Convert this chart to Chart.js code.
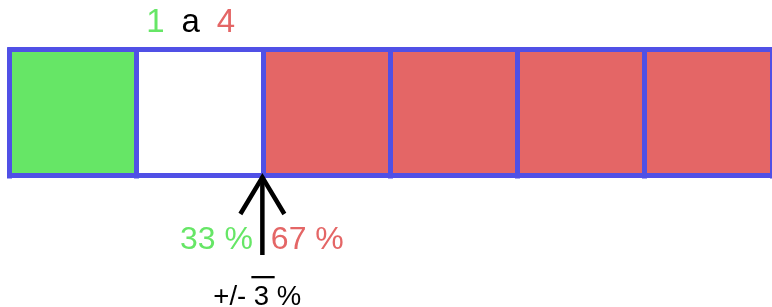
<!DOCTYPE html>
<html><head><meta charset="utf-8">
<script src="https://cdn.jsdelivr.net/npm/chart.js@4/dist/chart.umd.min.js"></script>
<style>html,body{margin:0;padding:0;background:#fff;overflow:hidden}#wrap{width:772px;height:307px;position:relative}canvas{display:block}</style>
</head><body><div id="wrap"><canvas id="c" width="772" height="307"></canvas></div>
<script>
// ---- data ----
const cells = ['1', '2', '3', '4', '5', '6'];
const cellValues = [1, 1, 1, 1, 1, 1];
const cellKinds = ['green', 'white', 'red', 'red', 'red', 'red'];
const titleParts = ['1', 'a', '4'];
const splitPosition = 2;          // boundary the arrow points at
const shareLabels = ['33 %', '67 %'];
const toleranceLabel = ['+/- ', '3', ' %'];

// ---- styles ----
const GREEN = '#66e666', RED = '#e46666', WHITE = '#ffffff', BLUE = '#5050e6', BLACK = '#000000';
const kindColor = { green: GREEN, white: WHITE, red: RED };
const FONT = '"Liberation Sans", Arial, Helvetica, sans-serif';

const overlay = {
  id: 'overlay',
  beforeDraw(chart) { chart.ctx.lineCap = 'square'; },
  afterDraw(chart) {
    const ctx = chart.ctx, xs = chart.scales.x, area = chart.chartArea;
    const x2 = xs.getPixelForValue(splitPosition);
    ctx.save();
    ctx.lineCap = 'butt';
    // title
    ctx.font = '33px ' + FONT;
    ctx.textAlign = 'center';
    ctx.textBaseline = 'alphabetic';
    const tCols = [GREEN, BLACK, RED];
    const tOff = [-108.5, -73.3, -38];
    titleParts.forEach((t, i) => { ctx.fillStyle = tCols[i]; ctx.fillText(t, x2 + tOff[i], 31.5); });
    // arrow
    ctx.strokeStyle = BLACK;
    ctx.lineWidth = 4.5;
    ctx.lineJoin = 'miter';
    ctx.beginPath();
    ctx.moveTo(x2 - 1.5, area.bottom + 1);
    ctx.lineTo(x2 - 1.5, 255);
    ctx.stroke();
    ctx.beginPath();
    ctx.moveTo(x2 - 23.5, 214);
    ctx.lineTo(x2 - 1.5, area.bottom + 1.5);
    ctx.lineTo(x2 + 20.5, 214);
    ctx.stroke();
    // shares
    ctx.font = '32px ' + FONT;
    ctx.textAlign = 'right';
    ctx.fillStyle = GREEN;
    ctx.fillText(shareLabels[0], x2 - 11, 249);
    ctx.textAlign = 'left';
    ctx.fillStyle = RED;
    ctx.fillText(shareLabels[1], x2 + 7, 249);
    // tolerance
    ctx.font = '27.5px ' + FONT;
    ctx.fillStyle = BLACK;
    ctx.textAlign = 'left';
    const sx = x2 - 50.5;
    ctx.fillText(toleranceLabel.join(''), sx, 305);
    const w0 = ctx.measureText(toleranceLabel[0]).width;
    const w1 = ctx.measureText(toleranceLabel[1]).width;
    ctx.fillRect(sx + w0 - 2.5, 276, w1 + 8, 2.3);
    ctx.restore();
  }
};

new Chart(document.getElementById('c'), {
  type: 'bar',
  data: {
    labels: [''],
    datasets: cells.map((c, i) => ({
      label: c,
      data: [cellValues[i]],
      backgroundColor: kindColor[cellKinds[i]],
      borderWidth: 0,
      barPercentage: 1,
      categoryPercentage: 1,
      stack: 's'
    }))
  },
  options: {
    indexAxis: 'y',
    responsive: false,
    animation: false,
    devicePixelRatio: 1,
    layout: { padding: { left: 9.8, top: 49.8, right: 0, bottom: 307 - 175.8 } },
    plugins: { legend: { display: false }, tooltip: { enabled: false }, title: { display: false } },
    scales: {
      x: {
        type: 'linear', min: 0, max: 6, stacked: true,
        ticks: { display: false, stepSize: 1 },
        grid: { color: BLUE, lineWidth: 5, drawTicks: false, tickLength: 0, z: 1 },
        border: { display: false }
      },
      y: {
        stacked: true,
        ticks: { display: false },
        grid: { color: BLUE, lineWidth: 5, drawTicks: false, tickLength: 0, z: 1, offset: true },
        border: { display: false }
      }
    }
  },
  plugins: [overlay]
});
</script>
</body></html>
